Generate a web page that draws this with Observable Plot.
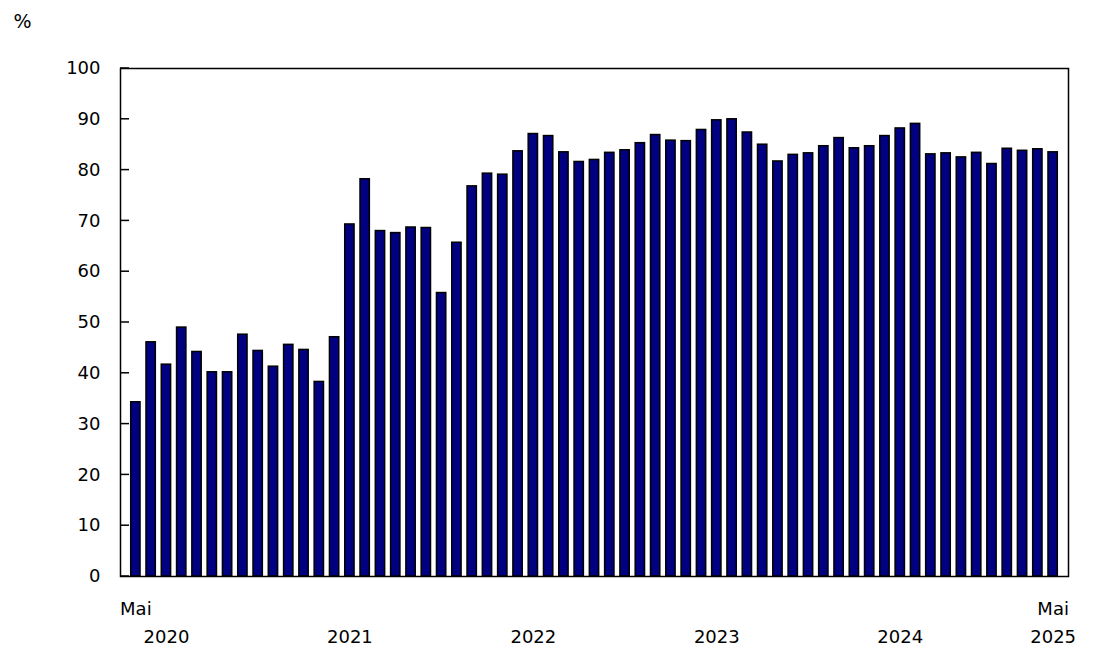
<!DOCTYPE html>
<html>
<head>
<meta charset="utf-8">
<script src="https://cdn.jsdelivr.net/npm/d3@7"></script>
<script src="https://cdn.jsdelivr.net/npm/@observablehq/plot@0.6"></script>
<style>
  html, body { margin: 0; padding: 0; background: #fff; }
  #chart svg { display: block; }
</style>
</head>
<body>
<div id="chart"></div>
<script>
const months = [
  "2020-05","2020-06","2020-07","2020-08","2020-09","2020-10","2020-11","2020-12",
  "2021-01","2021-02","2021-03","2021-04","2021-05","2021-06","2021-07","2021-08","2021-09","2021-10","2021-11","2021-12",
  "2022-01","2022-02","2022-03","2022-04","2022-05","2022-06","2022-07","2022-08","2022-09","2022-10","2022-11","2022-12",
  "2023-01","2023-02","2023-03","2023-04","2023-05","2023-06","2023-07","2023-08","2023-09","2023-10","2023-11","2023-12",
  "2024-01","2024-02","2024-03","2024-04","2024-05","2024-06","2024-07","2024-08","2024-09","2024-10","2024-11","2024-12",
  "2025-01","2025-02","2025-03","2025-04","2025-05"
];
const values = [
  34.3, 46.1, 41.7, 49.0, 44.2, 40.2, 40.2, 47.6,
  44.4, 41.3, 45.6, 44.6, 38.3, 47.1, 69.3, 78.2, 68.0, 67.6, 68.7, 68.6,
  55.8, 65.7, 76.8, 79.3, 79.1, 83.7, 87.1, 86.7, 83.5, 81.6, 82.0, 83.4,
  83.9, 85.3, 86.9, 85.8, 85.7, 87.9, 89.8, 90.0, 87.4, 85.0, 81.7, 83.0,
  83.3, 84.7, 86.3, 84.3, 84.7, 86.7, 88.2, 89.1, 83.1, 83.3, 82.5, 83.4,
  81.2, 84.2, 83.8, 84.1, 83.5
];
const yTicks = [0, 10, 20, 30, 40, 50, 60, 70, 80, 90, 100];
const monthTickMonths = ["2020-05", "2025-05"];
const monthTickLabels = ["Mai", "Mai"];
const yearTickMonths = ["2020-07", "2021-07", "2022-07", "2023-07", "2024-07", "2025-05"];
const yearTickLabels = ["2020", "2021", "2022", "2023", "2024", "2025"];
const unitLabel = "%";

const data = months.map((m, i) => ({month: m, value: values[i]}));
const monthTicks = monthTickMonths.map((m, i) => ({month: m, label: monthTickLabels[i]}));
const yearTicks = yearTickMonths.map((m, i) => ({month: m, label: yearTickLabels[i]}));

// inward y ticks drawn with the plot's own y scale
function inwardTicks(index, scales, values, dimensions) {
  const left = dimensions.marginLeft;
  const g = d3.create("svg:g").attr("stroke", "black").attr("stroke-width", 1.5);
  g.selectAll("line").data(yTicks).join("line")
    .attr("x1", left).attr("x2", left + 9)
    .attr("y1", d => scales.y(d)).attr("y2", d => scales.y(d));
  return g.node();
}

const chart = Plot.plot({
  width: 1102,
  height: 658,
  marginTop: 68,
  marginBottom: 82,
  marginLeft: 120,
  marginRight: 34,
  style: {fontFamily: "'DejaVu Sans', Verdana, sans-serif", fontSize: "18px", color: "black", background: "white"},
  x: {type: "band", domain: months, paddingInner: 0.39, paddingOuter: 0.7, round: false, axis: null},
  y: {domain: [0, 100], axis: null},
  marks: [
    Plot.barY(data, {x: "month", y: "value", fill: "#000080", stroke: "black", strokeWidth: 1.5}),
    Plot.frame({stroke: "black", strokeWidth: 1.5}),
    inwardTicks,
    Plot.axisY({anchor: "left", ticks: yTicks, tickSize: 0, tickPadding: 20, fontSize: 18, label: null, tickFormat: d => String(d)}),
    Plot.text(monthTicks, {x: "month", text: "label", frameAnchor: "bottom", dy: 38, fontSize: 18, fill: "black"}),
    Plot.text(yearTicks, {x: "month", text: "label", frameAnchor: "bottom", dy: 66, fontSize: 18, fill: "black"}),
    Plot.text([unitLabel], {text: d => d, frameAnchor: "top-left", textAnchor: "start", dx: -107, dy: -54, fontSize: 19, fill: "black"})
  ]
});
document.getElementById("chart").appendChild(chart);
</script>
</body>
</html>
